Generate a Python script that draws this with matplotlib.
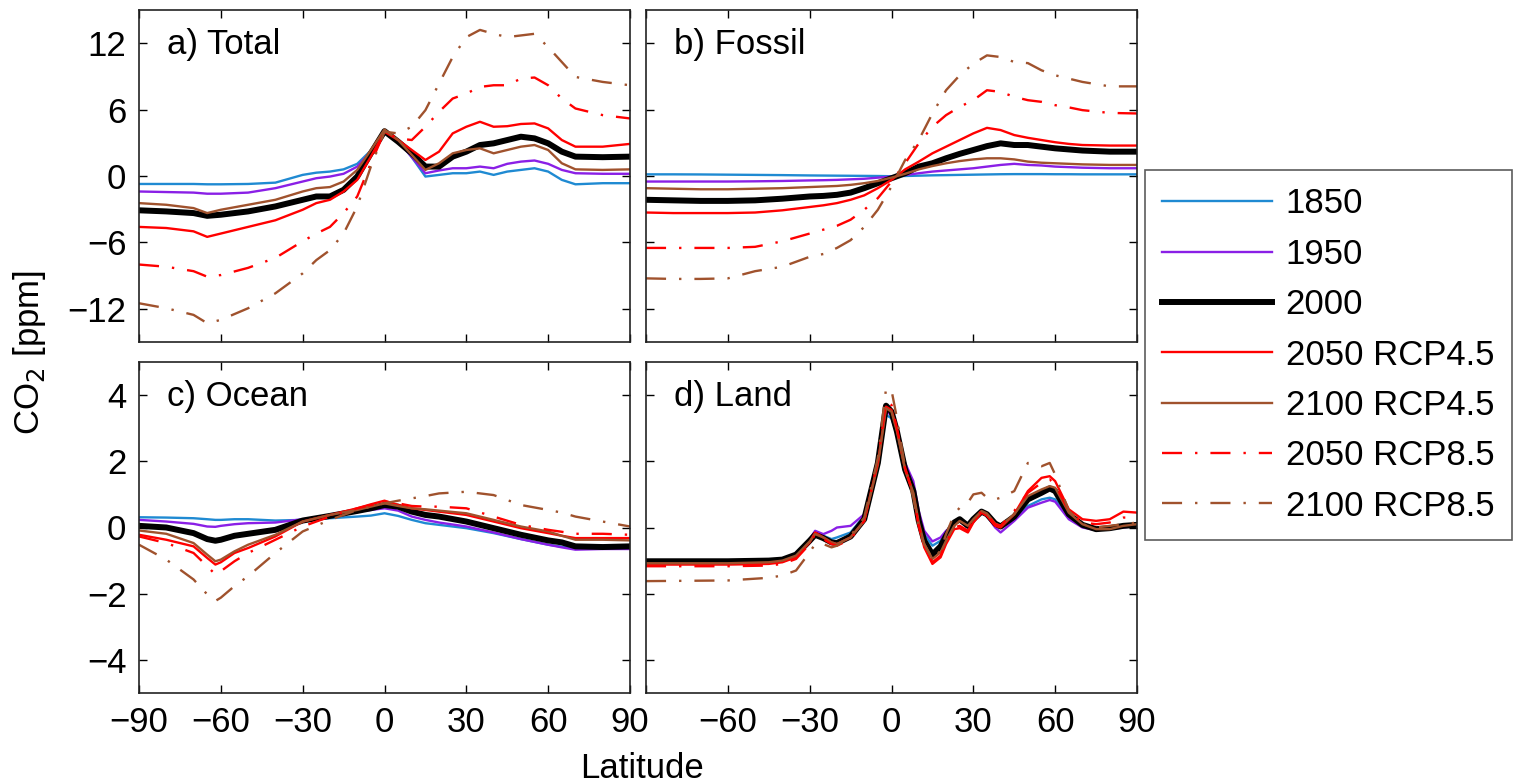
import numpy as np
import matplotlib
matplotlib.use("Agg")
import matplotlib.pyplot as plt

plt.rcParams['font.family'] = ['Liberation Sans', 'DejaVu Sans']
plt.rcParams['font.size'] = 25

# latitude grids (deg) for each panel
lat_total = [-90, -80, -70, -65, -60, -50, -40, -30, -25, -20, -15, -10, -5, 0,
             5, 10, 15, 20, 25, 30, 35, 40, 45, 50, 55, 60, 65, 70, 80, 90]
lat_fossil = [-90, -80, -70, -60, -50, -40, -30, -25, -20, -15, -10, -5, 0,
              5, 10, 15, 20, 25, 30, 35, 40, 45, 50, 55, 60, 65, 70, 80, 90]
lat_ocean = [-90, -80, -70, -65, -62, -60, -55, -50, -40, -30, -20, -10, -5, 0,
             5, 10, 15, 20, 30, 40, 50, 60, 65, 70, 80, 90]
lat_land = [-90, -60, -45, -40, -35, -30, -28, -25, -22, -20, -15, -10, -5, -2, 0,
            2, 5, 8, 10, 12, 15, 18, 20, 23, 25, 28, 30, 33, 35, 38, 40, 45, 50,
            55, 58, 60, 65, 70, 75, 80, 85, 90]

# a) Total CO2 anomaly [ppm]
total = {
    '1850': [-0.72, -0.72, -0.72, -0.75, -0.75, -0.72, -0.6, 0.1, 0.3, 0.4, 0.6, 1.1, 2.3, 4.0,
             3.2, 1.7, -0.05, 0.1, 0.25, 0.25, 0.4, 0.1, 0.4, 0.55, 0.7, 0.4, -0.35, -0.75, -0.65, -0.65],
    '1950': [-1.4, -1.45, -1.5, -1.6, -1.6, -1.5, -1.1, -0.5, -0.2, -0.05, 0.2, 0.85, 2.2, 4.0,
             3.2, 1.7, 0.25, 0.5, 0.7, 0.7, 0.85, 0.7, 1.1, 1.3, 1.4, 1.1, 0.55, 0.25, 0.2, 0.2],
    '2000': [-3.1, -3.2, -3.35, -3.6, -3.5, -3.2, -2.75, -2.15, -1.85, -1.85, -1.25, -0.05, 2.05, 4.05,
             3.1, 2.05, 0.85, 0.85, 1.75, 2.2, 2.8, 2.95, 3.25, 3.55, 3.4, 2.95, 2.2, 1.75, 1.7, 1.75],
    '2050 RCP4.5': [-4.6, -4.7, -5.0, -5.5, -5.2, -4.6, -4.0, -3.05, -2.45, -2.15, -1.4, -0.35, 1.75, 4.0,
                    3.25, 2.35, 1.45, 2.2, 3.85, 4.45, 4.9, 4.45, 4.5, 4.7, 4.75, 4.3, 3.25, 2.65, 2.65, 2.9],
    '2100 RCP4.5': [-2.45, -2.6, -2.9, -3.35, -3.05, -2.6, -2.15, -1.4, -1.1, -1.0, -0.5, 0.55, 2.35, 4.2,
                    3.25, 1.9, 0.55, 1.15, 2.05, 2.35, 2.5, 2.05, 2.35, 2.65, 2.8, 2.35, 1.15, 0.6, 0.55, 0.6],
    '2050 RCP8.5': [-8.0, -8.2, -8.6, -9.1, -8.95, -8.3, -7.4, -5.9, -5.2, -4.6, -3.35, -1.85, 1.15, 4.0,
                    3.4, 3.25, 4.45, 5.8, 7.0, 7.45, 8.05, 8.2, 8.2, 8.8, 8.9, 8.2, 7.0, 6.1, 5.5, 5.2],
    '2100 RCP8.5': [-11.5, -11.95, -12.55, -13.3, -13.0, -11.95, -10.6, -8.8, -7.6, -6.7, -5.2, -2.75, 0.85, 4.0,
                    3.85, 4.45, 5.95, 8.35, 10.75, 12.55, 13.2, 12.85, 12.55, 12.7, 12.85, 11.65, 10.3, 8.95, 8.5, 8.2],
}

# b) Fossil
fossil = {
    '1850': [0.15, 0.15, 0.14, 0.12, 0.1, 0.08, 0.05, 0.04, 0.03, 0.02, 0.01, 0.0, -0.02,
             0.0, 0.03, 0.06, 0.08, 0.1, 0.12, 0.14, 0.16, 0.17, 0.17, 0.17, 0.16, 0.16, 0.15, 0.15, 0.15],
    '1950': [-0.5, -0.5, -0.5, -0.5, -0.48, -0.45, -0.4, -0.38, -0.35, -0.3, -0.25, -0.15, -0.05,
             0.08, 0.25, 0.4, 0.5, 0.6, 0.7, 0.85, 1.0, 1.1, 1.0, 0.95, 0.85, 0.8, 0.75, 0.7, 0.7],
    '2000': [-2.15, -2.2, -2.25, -2.25, -2.2, -2.05, -1.85, -1.8, -1.7, -1.5, -1.1, -0.65, -0.2,
             0.25, 0.85, 1.15, 1.6, 2.0, 2.35, 2.7, 2.95, 2.8, 2.8, 2.65, 2.5, 2.4, 2.3, 2.2, 2.2],
    '2050 RCP4.5': [-3.3, -3.35, -3.35, -3.35, -3.3, -3.1, -2.8, -2.65, -2.45, -2.15, -1.75, -1.1, -0.35,
                    0.6, 1.3, 2.05, 2.65, 3.25, 3.85, 4.35, 4.15, 3.7, 3.45, 3.25, 3.05, 2.9, 2.8, 2.75, 2.75],
    '2100 RCP4.5': [-1.1, -1.15, -1.2, -1.2, -1.15, -1.1, -1.0, -0.95, -0.9, -0.8, -0.65, -0.45, -0.15,
                    0.2, 0.6, 0.9, 1.15, 1.35, 1.5, 1.6, 1.6, 1.5, 1.3, 1.2, 1.15, 1.1, 1.05, 1.0, 1.0],
    '2050 RCP8.5': [-6.5, -6.5, -6.5, -6.5, -6.4, -5.9, -5.2, -4.85, -4.5, -3.95, -3.05, -2.0, -0.5,
                    1.15, 2.95, 4.45, 5.5, 6.25, 6.85, 7.75, 7.6, 7.15, 6.85, 6.7, 6.4, 6.2, 5.95, 5.7, 5.65],
    '2100 RCP8.5': [-9.25, -9.3, -9.3, -9.25, -8.6, -8.2, -7.3, -7.05, -6.5, -5.8, -4.6, -3.05, -0.95,
                    1.45, 3.25, 5.65, 7.75, 9.1, 10.15, 10.9, 10.75, 10.3, 10.2, 9.55, 9.1, 8.8, 8.5, 8.1, 8.1],
}

# c) Ocean
ocean = {
    '1850': [0.31, 0.3, 0.28, 0.25, 0.23, 0.23, 0.25, 0.25, 0.21, 0.23, 0.28, 0.33, 0.36, 0.43,
             0.35, 0.23, 0.13, 0.08, -0.02, -0.17, -0.35, -0.52, -0.58, -0.62, -0.62, -0.62],
    '1950': [0.23, 0.18, 0.11, 0.03, 0.02, 0.05, 0.1, 0.13, 0.15, 0.25, 0.33, 0.48, 0.53, 0.58,
             0.51, 0.33, 0.23, 0.15, 0.03, -0.15, -0.35, -0.52, -0.6, -0.67, -0.65, -0.65],
    '2000': [0.05, 0.0, -0.17, -0.35, -0.4, -0.37, -0.25, -0.19, -0.07, 0.21, 0.35, 0.5, 0.58, 0.68,
             0.63, 0.48, 0.38, 0.33, 0.18, -0.02, -0.22, -0.39, -0.45, -0.57, -0.59, -0.57],
    '2050 RCP4.5': [-0.22, -0.37, -0.57, -0.92, -1.12, -1.05, -0.77, -0.62, -0.27, 0.18, 0.38, 0.58, 0.7, 0.81,
                    0.68, 0.58, 0.53, 0.48, 0.38, 0.18, -0.02, -0.17, -0.25, -0.32, -0.32, -0.32],
    '2100 RCP4.5': [-0.09, -0.19, -0.47, -0.82, -1.02, -0.97, -0.72, -0.52, -0.22, 0.18, 0.38, 0.53, 0.63, 0.73,
                    0.65, 0.58, 0.55, 0.51, 0.43, 0.23, 0.03, -0.12, -0.25, -0.37, -0.37, -0.39],
    '2050 RCP8.5': [-0.27, -0.47, -0.77, -1.17, -1.42, -1.32, -1.02, -0.77, -0.37, 0.03, 0.33, 0.58, 0.68, 0.78,
                    0.73, 0.65, 0.63, 0.63, 0.58, 0.33, 0.08, -0.07, -0.13, -0.19, -0.19, -0.22],
    '2100 RCP8.5': [-0.52, -0.97, -1.57, -2.02, -2.22, -2.12, -1.77, -1.47, -0.77, -0.12, 0.23, 0.53, 0.63, 0.73,
                    0.81, 0.88, 0.95, 1.03, 1.08, 0.98, 0.68, 0.53, 0.45, 0.33, 0.18, 0.03],
}

# d) Land
land = {
    '1850': [-1.0, -1.0, -0.98, -0.95, -0.8, -0.38, -0.15, -0.25, -0.35, -0.3, -0.15, 0.35, 2.0, 3.4, 3.3,
             2.8, 1.8, 1.2, 0.35, -0.2, -0.55, -0.4, -0.15, 0.1, 0.2, 0.0, 0.2, 0.45, 0.38, 0.1, 0.0, 0.25, 0.65,
             0.85, 0.9, 0.85, 0.3, 0.05, -0.05, -0.02, 0.05, 0.08],
    '1950': [-1.0, -1.0, -0.98, -0.95, -0.8, -0.35, -0.1, -0.2, -0.1, 0.0, 0.05, 0.4, 2.05, 3.5, 3.4,
             2.9, 1.95, 1.4, 0.5, -0.1, -0.42, -0.3, -0.1, 0.1, 0.2, 0.0, 0.2, 0.45, 0.35, 0.0, -0.15, 0.2, 0.6,
             0.75, 0.83, 0.78, 0.25, 0.0, -0.08, -0.05, 0.0, 0.05],
    '2000': [-1.02, -1.02, -1.0, -0.97, -0.82, -0.4, -0.22, -0.32, -0.45, -0.47, -0.27, 0.25, 1.95, 3.68, 3.5,
             2.9, 1.75, 1.1, 0.2, -0.4, -0.82, -0.57, -0.25, 0.15, 0.25, 0.05, 0.25, 0.48, 0.4, 0.12, 0.03, 0.33, 0.85,
             1.05, 1.18, 1.1, 0.4, 0.08, -0.05, -0.02, 0.05, 0.08],
    '2050 RCP4.5': [-1.12, -1.12, -1.1, -1.05, -0.9, -0.45, -0.15, -0.3, -0.45, -0.5, -0.3, 0.2, 1.95, 3.65, 3.55,
                    2.95, 1.75, 1.0, 0.05, -0.6, -1.1, -0.9, -0.5, -0.05, -0.02, -0.15, 0.15, 0.45, 0.35, 0.05, 0.0, 0.4, 1.1,
                    1.5, 1.55, 1.4, 0.55, 0.25, 0.2, 0.25, 0.48, 0.45],
    '2100 RCP4.5': [-1.08, -1.08, -1.05, -1.0, -0.85, -0.42, -0.2, -0.3, -0.45, -0.5, -0.3, 0.2, 1.9, 3.6, 3.5,
                    2.9, 1.75, 1.05, 0.15, -0.5, -0.95, -0.75, -0.4, 0.05, 0.2, 0.05, 0.25, 0.5, 0.42, 0.12, 0.05, 0.4, 0.95,
                    1.15, 1.25, 1.2, 0.45, 0.1, -0.05, -0.05, 0.05, 0.1],
    '2050 RCP8.5': [-1.17, -1.17, -1.15, -1.1, -0.95, -0.5, -0.2, -0.35, -0.5, -0.55, -0.35, 0.2, 2.0, 3.8, 3.7,
                    3.0, 1.8, 1.0, 0.05, -0.55, -1.05, -0.85, -0.45, 0.0, 0.05, -0.1, 0.2, 0.5, 0.4, 0.1, 0.05, 0.5, 1.05,
                    1.35, 1.45, 1.3, 0.5, 0.15, 0.1, 0.15, 0.3, 0.3],
    '2100 RCP8.5': [-1.62, -1.6, -1.52, -1.45, -1.3, -0.75, -0.5, -0.5, -0.6, -0.55, -0.25, 0.3, 2.1, 4.2, 4.15,
                    3.3, 1.8, 0.9, 0.0, -0.5, -0.95, -0.7, -0.2, 0.4, 0.6, 0.75, 1.0, 1.05, 0.9, 0.85, 0.9, 1.1, 1.95,
                    1.85, 1.95, 1.6, 0.5, 0.1, 0.0, 0.05, 0.1, 0.15],
}

series = ['1850', '1950', '2000', '2050 RCP4.5', '2100 RCP4.5', '2050 RCP8.5', '2100 RCP8.5']
dashdot = (0, (8.5, 5.5, 1, 5.5))
styles = {
    '1850': dict(color='#1f8ad2', lw=1.7, ls='-'),
    '1950': dict(color='#8a1fe6', lw=1.7, ls='-'),
    '2000': dict(color='black', lw=4.3, ls='-'),
    '2050 RCP4.5': dict(color='#ff0000', lw=1.7, ls='-'),
    '2100 RCP4.5': dict(color='#a0522d', lw=1.7, ls='-'),
    '2050 RCP8.5': dict(color='#ff0000', lw=1.7, ls=dashdot),
    '2100 RCP8.5': dict(color='#a0522d', lw=1.7, ls=dashdot),
}

W, H = 1518, 784
fig = plt.figure(figsize=(W / 100, H / 100), dpi=100)


def px_axes(x0, x1, y0, y1):
    return fig.add_axes([x0 / W, 1 - y1 / H, (x1 - x0) / W, (y1 - y0) / H])


xticks = [-90, -60, -30, 0, 30, 60, 90]
xlabels = ['\u221290', '\u221260', '\u221230', '0', '30', '60', '90']

panels = [
    (px_axes(139, 630, 10, 342), lat_total, total, 'a) Total', 15, [-12, -6, 0, 6, 12]),
    (px_axes(646, 1137, 10, 342), lat_fossil, fossil, 'b) Fossil', 15, [-12, -6, 0, 6, 12]),
    (px_axes(139, 630, 362, 693), lat_ocean, ocean, 'c) Ocean', 5, [-4, -2, 0, 2, 4]),
    (px_axes(646, 1137, 362, 693), lat_land, land, 'd) Land', 5, [-4, -2, 0, 2, 4]),
]

handles = []
for i, (ax, lat, data, title, ylim, yticks) in enumerate(panels):
    for name in series:
        st = styles[name]
        h, = ax.plot(lat, data[name], color=st['color'], lw=st['lw'],
                     linestyle=st['ls'], label=name)
        if i == 0:
            handles.append(h)
    ax.set_xlim(-90, 90)
    ax.set_ylim(-ylim, ylim)
    ax.set_xticks(xticks)
    ax.set_yticks(yticks)
    ax.tick_params(direction='in', length=6, width=1, top=True, right=True,
                   labelsize=25, pad=9)
    for sp in ax.spines.values():
        sp.set_linewidth(1.2)
        sp.set_color('#222222')
    if i < 2:
        ax.set_xticklabels([])
    elif i == 3:
        # left neighbour already shows 90, so the -90 label is left blank
        ax.set_xticklabels([''] + xlabels[1:])
    else:
        ax.set_xticklabels(xlabels)
    if i % 2 == 1:
        ax.set_yticklabels([])
    ax.text(0.057, 0.895, title, transform=ax.transAxes, ha='left', va='center',
            fontsize=25)

fig.text(30 / W, 1 - 352 / H, 'CO$_2$ [ppm]', rotation=90, ha='center',
         va='center', fontsize=25)
fig.text(642 / W, 1 - 768 / H, 'Latitude', ha='center', va='center', fontsize=25)

leg = fig.legend(handles=handles, loc='center left',
                 bbox_to_anchor=(1145 / W, 1 - 355 / H), fontsize=25,
                 frameon=True, fancybox=False, edgecolor='#333333',
                 handlelength=3.15, handletextpad=0.4, labelspacing=0.5,
                 borderpad=0.5, borderaxespad=0)
leg.get_frame().set_linewidth(1.2)

fig.savefig('out.png', dpi=100)
